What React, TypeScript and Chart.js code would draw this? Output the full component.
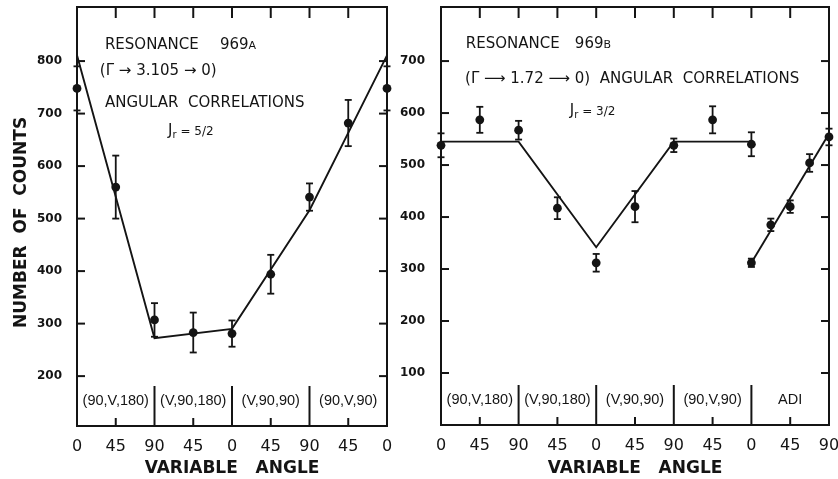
import React, { useEffect, useRef } from 'react';
import { Chart, registerables } from 'chart.js';

Chart.register(...registerables);

// ---------- Panel A : Resonance 969A ----------
const angleLabelsA = ['0', '45', '90', '45', '0', '45', '90', '45', '0'];
const groupLabelsA = ['(90,V,180)', '(V,90,180)', '(V,90,90)', '(90,V,90)'];
const yTicksA = [200, 300, 400, 500, 600, 700, 800];
const positionsA = [0, 1, 2, 3, 4, 5, 6, 7, 8];
const countsA = [748, 560, 307, 283, 281, 394, 541, 682, 748];
const errorsA = [42, 60, 32, 38, 25, 37, 26, 44, 42];
const fitPosA = [0, 2, 4, 6, 8];
const fitCountsA = [811, 272, 290, 516, 811];

// ---------- Panel B : Resonance 969B ----------
const angleLabelsB = ['0', '45', '90', '45', '0', '45', '90', '45', '0', '45', '90'];
const groupLabelsB = ['(90,V,180)', '(V,90,180)', '(V,90,90)', '(90,V,90)', 'ADI'];
const yTicksB = [100, 200, 300, 400, 500, 600, 700];
const positionsB = [0, 1, 2, 3, 4, 5, 6, 7, 8];
const countsB = [538, 587, 567, 417, 312, 420, 538, 587, 540];
const errorsB = [23, 25, 18, 21, 17, 30, 13, 26, 23];
const fitPosB = [0, 2, 4, 6, 8];
const fitCountsB = [545, 545, 342, 545, 545];
const adiPositions = [8, 8.5, 9, 9.5, 10];
const adiCounts = [312, 385, 420, 504, 554];
const adiErrors = [8, 12, 12, 17, 16];
const adiFitPos = [8, 10];
const adiFitCounts = [312, 560];

const FONT = '"DejaVu Sans", sans-serif';
const GROUP_FONT = '"Liberation Sans", sans-serif';
const INK = '#141414';

type Seg = { t: string; s: number; dy?: number };
type Note = { x: number; y: number; segs: Seg[] };

const notesA: Note[] = [
  { x: 0.72, y: 834, segs: [{ t: 'RESONANCE', s: 15 }] },
  { x: 3.69, y: 834, segs: [{ t: '969', s: 15 }, { t: 'A', s: 11 }] },
  { x: 0.59, y: 783, segs: [{ t: '(Γ → 3.105 → 0)', s: 15 }] },
  { x: 0.72, y: 722, segs: [{ t: 'ANGULAR  CORRELATIONS', s: 15 }] },
  { x: 2.35, y: 669, segs: [{ t: 'J', s: 15 }, { t: 'r', s: 10, dy: 3 }, { t: ' = 5/2', s: 12 }] },
];

const notesB: Note[] = [
  { x: 0.64, y: 735, segs: [{ t: 'RESONANCE', s: 15 }] },
  { x: 3.45, y: 735, segs: [{ t: '969', s: 15 }, { t: 'B', s: 11 }] },
  { x: 0.62, y: 669, segs: [{ t: '(Γ ⟶ 1.72 ⟶ 0)  ANGULAR  CORRELATIONS', s: 15 }] },
  { x: 3.32, y: 606, segs: [{ t: 'J', s: 15 }, { t: 'r', s: 10, dy: 3 }, { t: ' = 3/2', s: 12 }] },
];

type ErrSet = { pos: number[]; val: number[]; err: number[] };

function makeDecor(opts: {
  errorSets: ErrSet[];
  yTicks: number[];
  nIntervals: number;
  groups: string[];
  notes: Note[];
}) {
  return {
    id: 'panelDecor',
    afterDraw(chart: any) {
      const { ctx, chartArea: a } = chart;
      const xs = chart.scales.x;
      const ys = chart.scales.y;
      ctx.save();
      ctx.strokeStyle = INK;
      ctx.fillStyle = INK;
      const seg = (x1: number, y1: number, x2: number, y2: number) => {
        ctx.beginPath();
        ctx.moveTo(x1, y1);
        ctx.lineTo(x2, y2);
        ctx.stroke();
      };
      // error bars
      ctx.lineWidth = 1.8;
      for (const e of opts.errorSets) {
        e.pos.forEach((p, i) => {
          const px = xs.getPixelForValue(p);
          const t = ys.getPixelForValue(e.val[i] + e.err[i]);
          const b = ys.getPixelForValue(e.val[i] - e.err[i]);
          seg(px, t, px, b);
          seg(px - 3.5, t, px + 3.5, t);
          seg(px - 3.5, b, px + 3.5, b);
        });
      }
      // frame
      ctx.lineWidth = 2;
      ctx.strokeRect(a.left, a.top, a.right - a.left, a.bottom - a.top);
      // inward y ticks on both sides
      for (const v of opts.yTicks) {
        const py = ys.getPixelForValue(v);
        seg(a.left, py, a.left + 8, py);
        seg(a.right - 8, py, a.right, py);
      }
      // top ticks, bottom ticks and group separators
      for (let i = 1; i < opts.nIntervals; i++) {
        const px = xs.getPixelForValue(i);
        seg(px, a.top, px, a.top + 11);
        if (i % 2 === 0) seg(px, a.bottom, px, a.bottom - 40);
        else seg(px, a.bottom, px, a.bottom - 8);
      }
      // group labels
      ctx.font = `14.5px ${GROUP_FONT}`;
      ctx.textAlign = 'center';
      ctx.textBaseline = 'middle';
      opts.groups.forEach((g, k) => {
        const cx = xs.getPixelForValue(2 * k + 1);
        ctx.fillText(g, cx, a.bottom - 25);
      });
      // annotations
      ctx.textAlign = 'left';
      ctx.textBaseline = 'alphabetic';
      for (const note of opts.notes) {
        let px = xs.getPixelForValue(note.x);
        const base = ys.getPixelForValue(note.y) + note.segs[0].s * 0.36;
        for (const s of note.segs) {
          ctx.font = `${s.s}px ${FONT}`;
          ctx.fillText(s.t, px, base + (s.dy || 0));
          px += ctx.measureText(s.t).width;
        }
      }
      ctx.restore();
    },
  };
}

const pts = (xs: number[], ys: number[]) => xs.map((x, i) => ({ x, y: ys[i] }));

function lineDs(xs: number[], ys: number[]) {
  return {
    type: 'line' as const,
    data: pts(xs, ys),
    borderColor: INK,
    borderWidth: 1.9,
    pointRadius: 0,
    tension: 0,
    fill: false,
    clip: false as any,
  };
}

function pointDs(xs: number[], ys: number[]) {
  return {
    type: 'scatter' as const,
    data: pts(xs, ys),
    backgroundColor: INK,
    borderColor: INK,
    borderWidth: 0,
    pointRadius: 4.4,
    clip: false as any,
  };
}

function makeConfig(p: {
  datasets: any[];
  labels: string[];
  yTicks: number[];
  yMin: number;
  yMax: number;
  yWidth: number;
  yPad: number;
  xHeight: number;
  padRight: number;
  yTitle?: string;
  decor: any;
}): any {
  const n = p.labels.length - 1;
  return {
    type: 'scatter',
    data: { datasets: p.datasets },
    plugins: [p.decor],
    options: {
      responsive: false,
      animation: false,
      events: [],
      layout: { padding: { left: 0, top: 7, right: p.padRight, bottom: 0 } },
      plugins: { legend: { display: false }, tooltip: { enabled: false } },
      scales: {
        x: {
          type: 'linear',
          min: 0,
          max: n,
          grid: { display: false },
          border: { display: false },
          afterBuildTicks: (s: any) => {
            s.ticks = p.labels.map((_, i) => ({ value: i }));
          },
          afterFit: (s: any) => {
            s.height = p.xHeight;
            s.paddingLeft = 0;
            s.paddingRight = 0;
          },
          ticks: {
            callback: (v: any) => p.labels[Math.round(Number(v))] ?? '',
            font: { family: FONT, size: 16 },
            color: INK,
            padding: 3,
            maxRotation: 0,
            autoSkip: false,
          },
          title: {
            display: true,
            text: 'VARIABLE   ANGLE',
            font: { family: FONT, size: 17, weight: 'bold' },
            color: INK,
            padding: { top: 0, bottom: 0 },
          },
        },
        y: {
          type: 'linear',
          min: p.yMin,
          max: p.yMax,
          grid: { display: false },
          border: { display: false },
          afterBuildTicks: (s: any) => {
            s.ticks = p.yTicks.map((v) => ({ value: v }));
          },
          afterFit: (s: any) => {
            s.width = p.yWidth;
            s.paddingTop = 0;
            s.paddingBottom = 0;
          },
          ticks: {
            callback: (v: any) => String(v),
            font: { family: FONT, size: 12, weight: 'bold' },
            color: INK,
            padding: p.yPad,
          },
          title: {
            display: !!p.yTitle,
            text: p.yTitle || '',
            font: { family: FONT, size: 17, weight: 'bold' },
            color: INK,
            padding: { top: 11, bottom: 0 },
          },
        },
      },
    },
  };
}

function configA() {
  return makeConfig({
    datasets: [lineDs(fitPosA, fitCountsA), pointDs(positionsA, countsA)],
    labels: angleLabelsA,
    yTicks: yTicksA,
    yMin: 105,
    yMax: 903,
    yWidth: 77,
    yPad: 7,
    xHeight: 53,
    padRight: 13,
    yTitle: 'NUMBER  OF  COUNTS  ',
    decor: makeDecor({
      errorSets: [{ pos: positionsA, val: countsA, err: errorsA }],
      yTicks: yTicksA,
      nIntervals: angleLabelsA.length - 1,
      groups: groupLabelsA,
      notes: notesA,
    }),
  });
}

function configB() {
  return makeConfig({
    datasets: [
      lineDs(fitPosB, fitCountsB),
      lineDs(adiFitPos, adiFitCounts),
      pointDs(positionsB, countsB),
      pointDs(adiPositions, adiCounts),
    ],
    labels: angleLabelsB,
    yTicks: yTicksB,
    yMin: 0,
    yMax: 804,
    yWidth: 41,
    yPad: 8,
    xHeight: 54,
    padRight: 9,
    decor: makeDecor({
      errorSets: [
        { pos: positionsB, val: countsB, err: errorsB },
        { pos: adiPositions, val: adiCounts, err: adiErrors },
      ],
      yTicks: yTicksB,
      nIntervals: angleLabelsB.length - 1,
      groups: groupLabelsB,
      notes: notesB,
    }),
  });
}

function PanelChart({ make, width, left }: { make: () => any; width: number; left: number }) {
  const ref = useRef<HTMLCanvasElement>(null);
  useEffect(() => {
    const chart = new Chart(ref.current as HTMLCanvasElement, make());
    return () => chart.destroy();
  }, [make]);
  return (
    <canvas
      ref={ref}
      width={width}
      height={479}
      style={{ position: 'absolute', left, top: 0, width, height: 479 }}
    />
  );
}

export default function App() {
  return (
    <div
      style={{
        position: 'fixed',
        left: 0,
        top: 0,
        width: 838,
        height: 479,
        background: '#fff',
        overflow: 'hidden',
      }}
    >
      <PanelChart make={configA} width={400} left={0} />
      <PanelChart make={configB} width={438} left={400} />
    </div>
  );
}
